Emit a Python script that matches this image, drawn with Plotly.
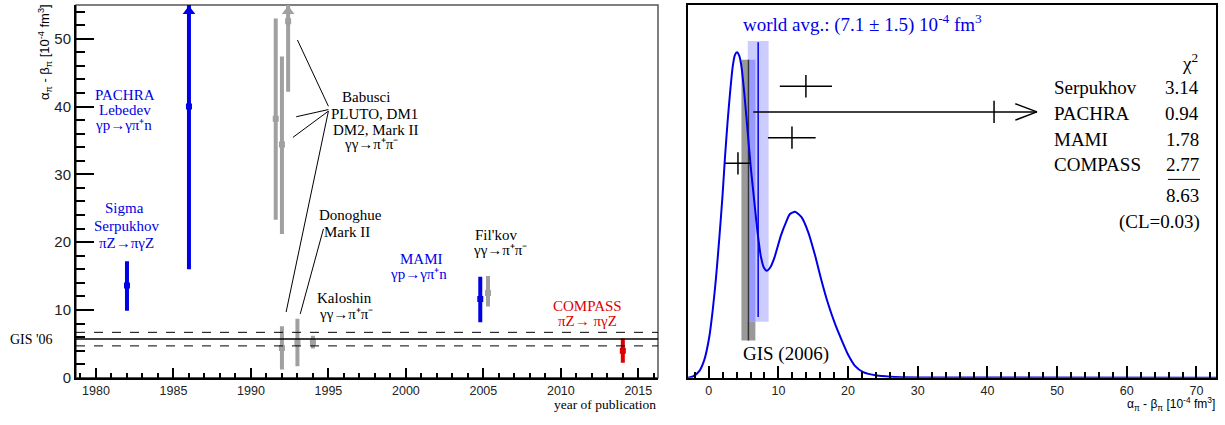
import plotly.graph_objects as go

# ---------------- data: left panel (alpha - beta vs. year) ----------------
blue_years = [1982.0, 1986.0, 2004.8]
blue_vals = [13.6, 40.0, 11.6]
blue_lo = [9.9, 16.0, 8.2]
blue_hi = [17.2, 64.0, 14.9]

gray_years = [1991.6, 1992.0, 1992.4, 1992.0, 1993.0, 1994.0, 2005.3]
gray_vals = [38.2, 34.4, 52.6, 4.4, 5.2, 5.25, 12.5]
gray_lo = [23.3, 21.2, 42.2, 1.2, 1.7, 4.3, 10.5]
gray_hi = [53.0, 47.4, 62.8, 7.6, 8.7, 6.2, 15.0]

red_years = [2014.0]
red_vals = [4.0]
red_lo = [2.2]
red_hi = [5.8]

gis_value = 5.7
gis_error = 1.0

# ---------------- data: right panel (fit) ----------------
fit_names = ["Serpukhov", "PACHRA", "MAMI", "COMPASS"]
fit_centers = [13.95, 40.95, 11.95, 4.2]
fit_lo = [10.2, 6.4, 8.5, 2.35]
fit_hi = [17.7, 47.1, 15.35, 6.05]
chi2 = ["3.14", "0.94", "1.78", "2.77"]
chi2_total = "8.63"
cl_text = "(CL=0.03)"
world_avg = 7.1
world_err = 1.5

curve_x = [-2.97, -2.25, -1.35, -0.63, 0.09, 0.57, 1.05, 1.52, 1.98, 2.34, 2.70, 3.06,
           3.44, 3.77, 4.06, 4.39, 4.68, 5.11, 5.60, 6.07, 6.54, 7.03, 7.50, 7.93, 8.32,
           8.80, 9.41, 10.37, 11.09, 11.66, 12.38, 13.34, 14.29, 15.25, 16.21, 17.16,
           18.12, 19.08, 20.03, 20.99, 22.18, 24.10, 26.01, 30.32, 72.8]
curve_y = [0.0, 0.004, 0.018, 0.048, 0.110, 0.180, 0.268, 0.374, 0.487, 0.592, 0.684, 0.763,
           0.834, 0.866, 0.873, 0.863, 0.837, 0.763, 0.658, 0.558, 0.474, 0.387, 0.324, 0.295,
           0.287, 0.295, 0.321, 0.382, 0.417, 0.439, 0.445, 0.430, 0.390, 0.329, 0.259, 0.197,
           0.145, 0.101, 0.061, 0.032, 0.015, 0.006, 0.003, 0.001, 0.0]

# ---------------- layout constants ----------------
W, H = 1225, 425
SERIF = "Liberation Serif"
SANS = "Liberation Sans"
BLUE = "#0000e6"
GRAY = "#a0a0a0"
RED = "#dd0000"

L_X0, L_X1, TOP, BOT = 76, 658, 5, 385
R_X0, R_X1 = 688, 1216
XR_L = [1978.71, 2016.27]
YR_L = [0, 55]
XR_R = [-2.97, 72.8]
YR_R = [0, 1]
ppu_left = (BOT - TOP) / (YR_L[1] - YR_L[0])

fig = go.Figure()


def add_bars(years, vals, lo, hi, color):
    for x, v, a, b in zip(years, vals, lo, hi):
        fig.add_trace(go.Scatter(x=[x, x], y=[a, b], mode="lines",
                                 line=dict(color=color, width=4),
                                 xaxis="x", yaxis="y", showlegend=False, hoverinfo="skip"))
        fig.add_trace(go.Scatter(x=[x], y=[v], mode="markers",
                                 marker=dict(symbol="square", size=6, color=color),
                                 xaxis="x", yaxis="y", showlegend=False))
        if b > YR_L[1]:
            r = 5.5
            fig.add_trace(go.Scatter(x=[x], y=[YR_L[1] - (1 + r) / ppu_left], mode="markers",
                                     marker=dict(symbol="triangle-up", size=2 * r, color=color),
                                     cliponaxis=False, xaxis="x", yaxis="y",
                                     showlegend=False))


add_bars(gray_years, gray_vals, gray_lo, gray_hi, GRAY)
add_bars(blue_years, blue_vals, blue_lo, blue_hi, BLUE)
add_bars(red_years, red_vals, red_lo, red_hi, RED)

shapes = []
# GIS lines (left)
shapes.append(dict(type="line", xref="x domain", yref="y", x0=0, x1=1,
                   y0=gis_value, y1=gis_value, line=dict(color="black", width=1.5)))
for s in (-1, 1):
    yv = gis_value + s * gis_error
    shapes.append(dict(type="line", xref="x domain", yref="y", x0=0, x1=1,
                       y0=yv, y1=yv, line=dict(color="black", width=1, dash="dash")))
# gray frame left
shapes.append(dict(type="rect", xref="x domain", yref="y domain", x0=0, x1=1, y0=0, y1=1,
                   line=dict(color="#555555", width=1.5), layer="below"))
# pointer lines left
pointer_lines = [
    ((1995.0, 40.05), (1993.0, 49.83)),
    ((1995.0, 39.56), (1992.92, 38.50)),
    ((1995.0, 39.33), (1992.71, 35.46)),
    ((1995.0, 39.33), (1992.27, 9.70)),
    ((1994.68, 21.96), (1993.18, 9.41)),
]
for (xa, ya), (xb, yb) in pointer_lines:
    shapes.append(dict(type="line", xref="x", yref="y", x0=xa, y0=ya, x1=xb, y1=yb,
                       line=dict(color="black", width=1)))

# right panel bands
gis_lo, gis_hi = gis_value - gis_error, gis_value + gis_error
wa_lo, wa_hi = world_avg - world_err, world_avg + world_err
shapes.append(dict(type="rect", xref="x2", yref="y2", x0=gis_lo, x1=gis_hi, y0=0.100, y1=0.853,
                   fillcolor="#999999", line=dict(width=0), layer="below"))
shapes.append(dict(type="rect", xref="x2", yref="y2", x0=wa_lo, x1=wa_hi, y0=0.150, y1=0.903,
                   fillcolor="#ccccff", line=dict(width=0), layer="below"))
shapes.append(dict(type="rect", xref="x2", yref="y2", x0=max(gis_lo, wa_lo), x1=min(gis_hi, wa_hi),
                   y0=0.150, y1=0.853, fillcolor="#9999ff", line=dict(width=0), layer="below"))
shapes.append(dict(type="line", xref="x2", yref="y2", x0=gis_value, x1=gis_value, y0=0.100,
                   y1=0.853, line=dict(color="#333333", width=1.5), layer="below"))
shapes.append(dict(type="line", xref="x2", yref="y2", x0=world_avg, x1=world_avg, y0=0.163,
                   y1=0.900, line=dict(color=BLUE, width=1.5), layer="below"))

# curve
fig.add_trace(go.Scatter(x=curve_x, y=curve_y, mode="lines",
                         line=dict(color=BLUE, width=2, shape="spline", smoothing=0.6),
                         xaxis="x2", yaxis="y2", showlegend=False, cliponaxis=False))

# crosses
row0, drow = 0.782, 0.069
rows = [row0 - i * drow for i in range(len(fit_names))]
for c, a, b, yr in zip(fit_centers, fit_lo, fit_hi, rows):
    fig.add_trace(go.Scatter(x=[a, b], y=[yr, yr], mode="lines",
                             line=dict(color="black", width=1.5),
                             xaxis="x2", yaxis="y2", showlegend=False))
    fig.add_trace(go.Scatter(x=[c], y=[yr], mode="markers",
                             marker=dict(symbol="line-ns", size=16,
                                         line=dict(color="black", width=1.5)),
                             xaxis="x2", yaxis="y2", showlegend=False))
    if b > 30:
        fig.add_trace(go.Scatter(x=[b - 3.1, b, b - 3.1], y=[yr + 0.022, yr, yr - 0.022],
                                 mode="lines", line=dict(color="black", width=1.5),
                                 xaxis="x2", yaxis="y2", showlegend=False))

# rule line under chi2 column
shapes.append(dict(type="line", xref="x2", yref="y2", x0=65.9, x1=70.5, y0=0.532, y1=0.532,
                   line=dict(color="black", width=1)))

ann = []


def txt(x, y, text, color="black", size=15, xa="center", xref="x", yref="y", family=SERIF,
        ya="middle", angle=0):
    ann.append(dict(x=x, y=y, xref=xref, yref=yref, text=text, showarrow=False,
                    font=dict(family=family, size=size, color=color), xanchor=xa,
                    yanchor=ya, textangle=angle, borderpad=0))


GGPP = "γγ→π⁺π⁻"
GPN = "γp→γπ⁺n"
# left labels
txt(1981.9, 41.68, "PACHRA", BLUE)
txt(1981.9, 39.51, "Lebedev", BLUE)
txt(1981.8, 37.34, GPN, BLUE)
txt(1981.85, 25.11, "Sigma", BLUE)
txt(1981.95, 22.33, "Serpukhov", BLUE)
txt(1981.98, 19.93, "πZ→πγZ", BLUE)
txt(1997.45, 41.35, "Babusci")
txt(1997.96, 38.93, "PLUTO, DM1")
txt(1998.07, 36.52, "DM2, Mark II")
txt(1997.72, 34.49, GGPP)
txt(1996.45, 23.98, "Donoghue")
txt(1996.20, 21.46, "Mark II")
txt(1996.05, 11.75, "Kaloshin")
txt(1996.12, 9.40, GGPP)
txt(2001.03, 17.51, "MAMI", BLUE)
txt(2000.80, 15.30, GPN, BLUE)
txt(2005.80, 21.09, "Fil'kov")
txt(2006.07, 18.82, GGPP)
txt(2011.69, 10.52, "COMPASS", RED)
txt(2011.72, 8.44, "πZ→ πγZ", RED)
txt(31 / W, 1 - 346 / H, "GIS '06", xref="paper", yref="paper", size=14)
txt(657 / W, 1 - 412 / H, "year of publication", xa="right", xref="paper", yref="paper", size=13.5)
txt(45 / W, 1 - 53 / H, "α<sub>π</sub> - β<sub>π</sub> [10<sup>-4</sup> fm<sup>3</sup>]",
    xref="paper", yref="paper", family=SANS, size=13, angle=-90)

# right labels
txt(4.73, 0.950, "world avg.: (%.1f ± %.1f) 10<sup>-4</sup> fm<sup>3</sup>" % (world_avg, world_err),
    BLUE, size=19, xa="left", xref="x2", yref="y2")
txt(70.3, 0.847, "χ<sup>2</sup>", size=19, xa="right", xref="x2", yref="y2")
for name, val, yr in zip(fit_names, chi2, rows):
    txt(49.4, yr - 0.004, name, size=19, xa="left", xref="x2", yref="y2")
    txt(70.56, yr - 0.004, val, size=19, xa="right", xref="x2", yref="y2")
txt(70.56, 0.489, chi2_total, size=19, xa="right", xref="x2", yref="y2")
txt(70.63, 0.417, cl_text, size=19, xa="right", xref="x2", yref="y2")
txt(4.78, 0.0645, "GIS (2006)", size=19, xa="left", xref="x2", yref="y2")
txt(R_X1 / W, 1 - 412 / H, "α<sub>π</sub> - β<sub>π</sub> [10<sup>-4</sup> fm<sup>3</sup>]",
    xa="right", xref="paper", yref="paper", family=SANS, size=12)

ydom = [1 - BOT / H, 1 - TOP / H]
axis_common = dict(showgrid=False, zeroline=False, ticks="inside", tickcolor="black",
                   tickwidth=1.5, showline=True, linecolor="black", linewidth=2)
fig.update_layout(
    width=W, height=H, margin=dict(l=0, r=0, t=0, b=0),
    paper_bgcolor="white", plot_bgcolor="white", showlegend=False,
    xaxis=dict(domain=[L_X0 / W, L_X1 / W], range=XR_L, tick0=1980, dtick=5, ticklen=10,
               minor=dict(ticks="inside", dtick=1, ticklen=5, tickcolor="black", tickwidth=1.5),
               tickfont=dict(family=SANS, size=12.5, color="#222"), anchor="y", **axis_common),
    yaxis=dict(domain=ydom, range=YR_L, dtick=10, ticklen=18,
               minor=dict(ticks="inside", dtick=2, ticklen=9, tickcolor="black", tickwidth=1.5),
               tickfont=dict(family=SANS, size=15, color="#222"), anchor="x", **axis_common),
    xaxis2=dict(domain=[R_X0 / W, R_X1 / W], range=XR_R, tick0=0, dtick=10, ticklen=12,
                minor=dict(ticks="inside", dtick=2, ticklen=6, tickcolor="black", tickwidth=1.5),
                tickfont=dict(family=SANS, size=12.5, color="#222"), anchor="y2", mirror=True,
                **axis_common),
    yaxis2=dict(domain=ydom, range=YR_R, showticklabels=False, showgrid=False, zeroline=False,
                ticks="", showline=True, linecolor="black", linewidth=1.5, mirror=True,
                anchor="x2"),
    shapes=shapes, annotations=ann,
)

fig.write_html("out.html")
